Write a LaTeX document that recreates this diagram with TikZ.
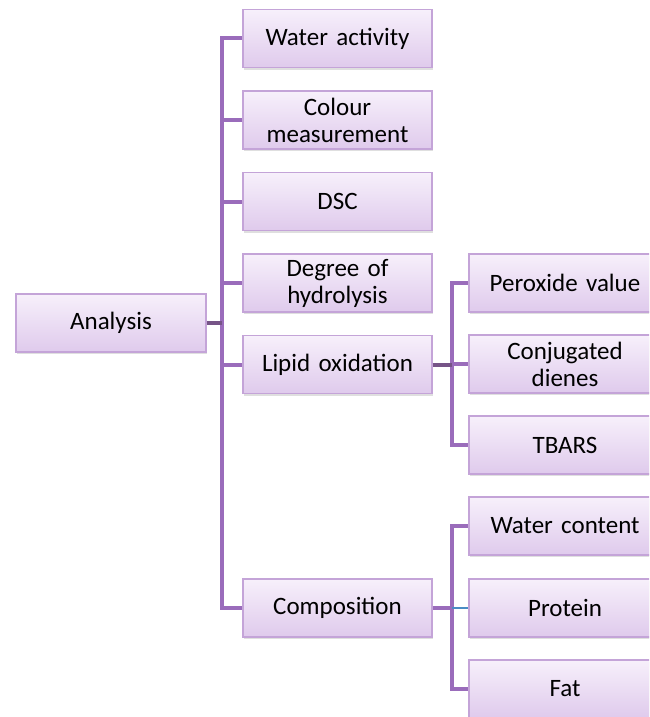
\documentclass[tikz,border=0pt]{standalone}
\usepackage{fontspec}
\setmainfont{Carlito}[WordSpace=0.8]
\usetikzlibrary{shadows}
\definecolor{boxtop}{HTML}{F7F0FB}
\definecolor{boxbot}{HTML}{DFCAEC}
\definecolor{boxline}{HTML}{C4A4D8}
\definecolor{conn}{HTML}{9A6CBB}
\definecolor{conndark}{HTML}{765487}
\definecolor{connblue}{HTML}{4A8CC4}
\tikzset{
  box/.style={draw=boxline, line width=1.2pt, top color=boxtop, bottom color=boxbot,
    minimum height=58pt, inner sep=2pt, align=center, text=black,
    font=\fontsize{25}{27}\selectfont,
    drop shadow={opacity=0.25, shadow xshift=1pt, shadow yshift=-2pt}},
  midbox/.style={box, minimum width=189pt, text width=183pt},
  rbox/.style={box, minimum width=192pt, text width=186pt},
  link/.style={draw=conn, line width=4pt},
  stub/.style={draw=conndark, line width=4pt},
  bluelink/.style={draw=connblue, line width=1.5pt}
}
\begin{document}
\begin{tikzpicture}[x=1pt,y=-1pt]
\path[use as bounding box, fill=white] (0,0) rectangle (649,717);
\begin{scope}
\clip (0,0) rectangle (649,717);
\coordinate (t1) at (222,323);
\coordinate (t2) at (452,364.5);
\coordinate (t3) at (452,608);
\node[midbox, minimum width=190pt, text width=184pt] (an) at (111,323) {Analysis};
\node[midbox] (wa) at (337.5,38.5) {Water activity};
\node[midbox] (cm) at (337.5,120) {Colour\\measurement};
\node[midbox] (dsc) at (337.5,201.5) {DSC};
\node[midbox] (dh) at (337.5,283) {Degree of\\hydrolysis};
\node[midbox] (lo) at (337.5,364.5) {Lipid oxidation};
\node[midbox] (co) at (337.5,608) {Composition};
\node[rbox] (pv) at (565,283) {Peroxide value};
\node[rbox] (cd) at (565,364) {Conjugated\\dienes};
\node[rbox] (tb) at (565,445) {TBARS};
\node[rbox] (wc) at (565,526) {Water content};
\node[rbox] (pr) at (565,608) {Protein};
\node[rbox] (fa) at (565,689) {Fat};
\path[link] (t1) |- (wa.west);
\path[link] (t1) |- (cm.west);
\path[link] (t1) |- (dsc.west);
\path[link] (t1) |- (dh.west);
\path[link] (t1) |- (lo.west);
\path[link] (t1) |- (co.west);
\path[stub] (an.east) -- (t1);
\path[link] (t2) |- (pv.west);
\path[link] (t2) |- (cd.west);
\path[link] (t2) |- (tb.west);
\path[stub] (lo.east) -- (t2);
\path[link] (t3) |- (wc.west);
\path[link] (t3) |- (fa.west);
\path[bluelink] (t3) -- (pr.west);
\path[link] (co.east) -- (t3);
\end{scope}
\end{tikzpicture}
\end{document}
